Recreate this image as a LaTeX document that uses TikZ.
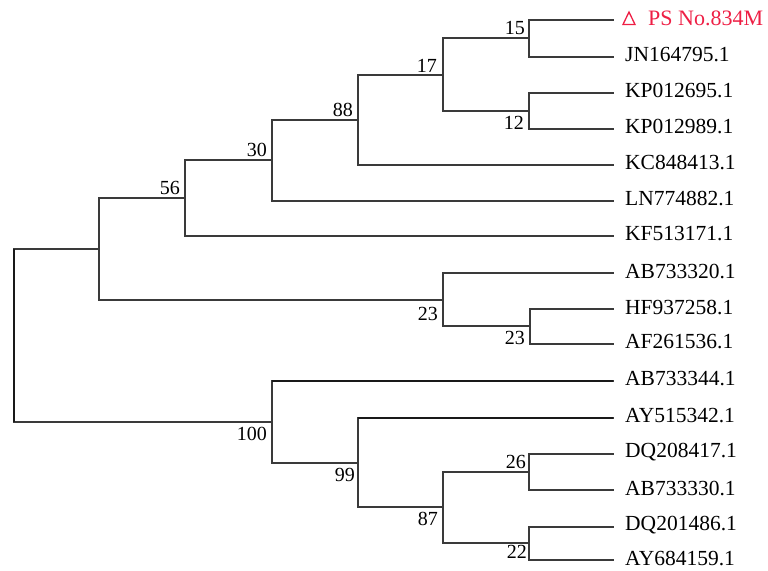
\documentclass[tikz,border=0pt]{standalone}
\usepackage{fontspec}
\setmainfont{Liberation Serif}
\definecolor{branch}{HTML}{3A3A3A}
\definecolor{query}{HTML}{EE1F45}
\tikzset{
  x=1pt, y=-1pt,
  edge/.style={draw=branch, line width=1.6pt, line cap=rect},
  heavy/.style={draw=black!90, line width=2.4pt},
  taxon/.style={anchor=west, inner sep=0pt, font=\fontsize{21.5}{24}\selectfont},
  bootup/.style={anchor=south east, inner sep=0pt, font=\fontsize{20}{22}\selectfont},
  bootdown/.style={anchor=north east, inner sep=0pt, font=\fontsize{20}{22}\selectfont},
}
\begin{document}
\begin{tikzpicture}
\useasboundingbox (0,0) rectangle (768,570);
\begin{scope}[yshift=4pt]
% leaf tips
\coordinate (t1)  at (613,24);
\coordinate (t2)  at (613,61);
\coordinate (t3)  at (613,97);
\coordinate (t4)  at (613,133);
\coordinate (t5)  at (613,169);
\coordinate (t6)  at (613,205);
\coordinate (t7)  at (613,240);
\coordinate (t8)  at (613,277);
\coordinate (t9)  at (613,313);
\coordinate (t10) at (613,348);
\coordinate (t11) at (613,385);
\coordinate (t12) at (613,422);
\coordinate (t13) at (613,458);
\coordinate (t14) at (613,494);
\coordinate (t15) at (613,531);
\coordinate (t16) at (613,564);

% internal nodes
\coordinate (n15)  at (529,42);
\coordinate (n12)  at (529,115);
\coordinate (n17)  at (443,79);
\coordinate (n88)  at (358,124);
\coordinate (n30)  at (272,164);
\coordinate (n56)  at (185,202);
\coordinate (n23b) at (530,330);
\coordinate (n23a) at (443,304);
\coordinate (nA)   at (99,253);
\coordinate (n26)  at (529,476);
\coordinate (n22)  at (529,547);
\coordinate (n87)  at (443,511);
\coordinate (n99)  at (358,467);
\coordinate (n100) at (272,426);
\coordinate (root) at (14,340);

% branches
\draw[edge] (n15) |- (t1);  \draw[edge] (n15) |- (t2);
\draw[edge] (n12) |- (t3);  \draw[edge] (n12) |- (t4);
\draw[edge] (n17) |- (n15); \draw[edge] (n17) |- (n12);
\draw[edge] (n88) |- (n17); \draw[edge] (n88) |- (t5);
\draw[edge] (n30) |- (n88); \draw[edge] (n30) |- (t6);
\draw[edge] (n56) |- (n30); \draw[edge] (n56) |- (t7);
\draw[edge] (n23b) |- (t9); \draw[edge] (n23b) |- (t10);
\draw[edge] (n23a) |- (t8); \draw[edge] (n23a) |- (n23b);
\draw[edge] (nA) |- (n56);  \draw[edge] (nA) |- (n23a);
\draw[edge] (n26) |- (t13); \draw[edge] (n26) |- (t14);
\draw[edge] (n22) |- (t15); \draw[edge] (n22) |- (t16);
\draw[edge] (n87) |- (n26); \draw[edge] (n87) |- (n22);
\draw[edge] (n99) |- (n87); \draw[edge] (n99) |- (t12);
\draw[edge] (n100) |- (n99);\draw[edge] (n100) |- (t11);
\draw[edge] (root) |- (nA); \draw[edge] (root) |- (n100);
% heavier strokes
\draw[heavy] (root |- nA) -- (root |- n100);
\draw[heavy] (n100 |- t11) -- (t11);
\draw[heavy] (n99 |- t12) -- (t12);

% bootstrap values (shifts are in page direction: +y is up)
\node[bootup]   (b15)  at ([xshift=-4pt,yshift=3pt]n15)   {15};
\node[bootup]   (b17)  at ([xshift=-6pt,yshift=2pt]n17)   {17};
\node[bootdown] (b12)  at ([xshift=-5pt,yshift=-5pt]n12)  {12};
\node[bootup]   (b88)  at ([xshift=-5pt,yshift=3pt]n88)   {88};
\node[bootup]   (b30)  at ([xshift=-5pt,yshift=3pt]n30)   {30};
\node[bootup]   (b56)  at ([xshift=-5pt,yshift=3pt]n56)   {56};
\node[bootdown] (b23a) at ([xshift=-5pt,yshift=-7pt]n23a) {23};
\node[bootdown] (b23b) at ([xshift=-5pt,yshift=-5pt]n23b) {23};
\node[bootdown] (b100) at ([xshift=-5pt,yshift=-5pt]n100) {100};
\node[bootdown] (b99)  at ([xshift=-3pt,yshift=-5pt]n99)  {99};
\node[bootup]   (b26)  at ([xshift=-3pt,yshift=3pt]n26)   {26};
\node[bootdown] (b87)  at ([xshift=-5pt,yshift=-5pt]n87)  {87};
\node[bootdown] (b22)  at ([xshift=-2pt,yshift=-2pt]n22)  {22};

% taxon labels
\draw[query, line width=1.3pt, line join=miter]
  (623,28.5) -- (635,28.5) -- (629,16) -- cycle;
\node[taxon, text=query, font=\fontsize{22}{24}\selectfont]
  (L1) at ([xshift=35pt,yshift=2pt]t1) {PS No.834M};
\node[taxon] (L2)  at ([xshift=12pt,yshift=2pt]t2)  {JN164795.1};
\node[taxon] (L3)  at ([xshift=12pt,yshift=2pt]t3)  {KP012695.1};
\node[taxon] (L4)  at ([xshift=12pt,yshift=2pt]t4)  {KP012989.1};
\node[taxon] (L5)  at ([xshift=12pt,yshift=2pt]t5)  {KC848413.1};
\node[taxon] (L6)  at ([xshift=12pt,yshift=2pt]t6)  {LN774882.1};
\node[taxon] (L7)  at ([xshift=12pt,yshift=2pt]t7)  {KF513171.1};
\node[taxon] (L8)  at ([xshift=12pt,yshift=2pt]t8)  {AB733320.1};
\node[taxon] (L9)  at ([xshift=12pt,yshift=2pt]t9)  {HF937258.1};
\node[taxon] (L10) at ([xshift=12pt,yshift=2pt]t10) {AF261536.1};
\node[taxon] (L11) at ([xshift=12pt,yshift=2pt]t11) {AB733344.1};
\node[taxon] (L12) at ([xshift=12pt,yshift=2pt]t12) {AY515342.1};
\node[taxon] (L13) at ([xshift=12pt,yshift=2pt]t13) {DQ208417.1};
\node[taxon] (L14) at ([xshift=12pt,yshift=2pt]t14) {AB733330.1};
\node[taxon] (L15) at ([xshift=12pt,yshift=2pt]t15) {DQ201486.1};
\node[taxon] (L16) at ([xshift=12pt,yshift=2pt]t16) {AY684159.1};
\end{scope}
\end{tikzpicture}
\end{document}
